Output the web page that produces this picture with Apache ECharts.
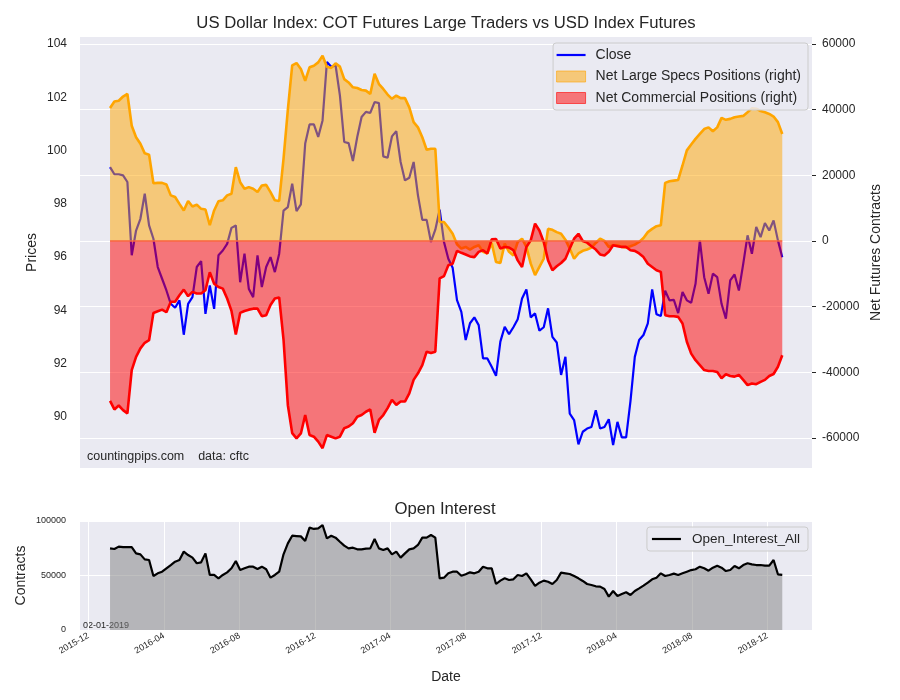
<!DOCTYPE html>
<html>
<head>
<meta charset="utf-8">
<script src="https://cdn.jsdelivr.net/npm/echarts@6.0.0/dist/echarts.min.js"></script>
<style>html,body{margin:0;padding:0;background:#fff}#c{width:900px;height:700px}</style>
</head>
<body>
<div id="c"></div>
<script>
// ---------- data (weekly COT reports, first report date below) ----------
const startDate = '2016-01-05';

const closePrices = [
  99.38,99.11,99.11,99.07,98.82,96.07,97.0,97.44,98.38,97.19,
  96.69,95.63,95.19,94.75,94.25,94.10,94.38,93.09,94.25,94.50,
  95.63,95.85,93.87,94.94,94.06,96.07,96.25,96.50,97.10,97.19,
  95.06,96.13,94.81,94.50,96.07,94.88,95.63,96.0,95.44,96.13,
  97.75,97.88,98.76,97.73,97.98,100.26,100.98,100.98,100.51,101.13,
  103.32,103.14,103.20,102.07,100.32,100.28,99.61,100.51,101.26,101.45,
  101.41,101.82,101.78,99.78,99.73,100.53,100.73,99.57,98.88,98.98,
  99.57,98.32,97.40,97.40,96.57,97.03,97.78,96.57,
  95.94,95.6,94.39,93.95,92.89,93.52,93.74,93.45,92.20,92.20,91.89,91.55,
  92.83,93.39,93.11,93.37,93.67,94.45,94.79,93.74,93.89,93.24,
  93.37,94.08,93.01,92.80,91.58,92.26,90.13,89.89,88.98,89.45,
  89.57,89.63,90.26,89.57,89.63,89.92,88.95,89.82,89.24,89.24,
  90.6,92.26,92.89,93.08,93.52,94.79,93.86,93.79,94.74,94.38,
  94.40,93.90,94.69,94.38,94.29,95.0,96.63,95.25,94.63,95.38,
  95.25,94.25,93.69,95.13,95.35,94.75,95.75,96.82,96.13,97.13,
  96.75,97.28,97.0,97.38,96.63,96.0
];

const netLargeSpecs = [
  40500,42500,42700,44000,44800,35100,31600,29600,26700,26300,
  17600,17700,17700,17200,13900,13400,11300,9300,12200,10500,
  11100,9800,9600,4800,9300,12100,12400,13900,14400,22500,
  17900,15900,16400,15900,14900,16900,17100,14900,12400,12200,
  25000,40000,53500,54200,52400,48800,52900,53400,54400,56400,
  53100,52700,54100,53100,49300,48300,46800,46600,46000,45800,
  44800,50900,47800,46300,44600,43300,44300,43500,43500,40700,
  36200,34600,31600,27800,28100,28100,5800,5800,
  4100,2200,-1000,-2300,-1800,-2600,-1800,-1300,-3300,-3800,-600,-6400,
  -6700,-800,-3300,-4400,-300,700,-1800,-6900,-10400,-7900,
  -5400,3700,3400,2700,2200,400,-2300,-5400,-3800,-3000,
  -2600,-2000,-600,700,0,-1800,-1300,-1300,-1800,-2000,
  -1600,-1100,-300,900,2700,3700,4500,4800,17700,18200,
  18400,18600,23000,27600,29400,31100,32600,34100,34600,33400,
  34600,37500,36900,37200,37700,37900,38100,39200,40400,40300,
  39600,39200,38700,37900,36200,32600
];

const netCommercial = [
  -48700,-51300,-50100,-51500,-52500,-39300,-35300,-32700,-31000,-30200,
  -21900,-21400,-20900,-21700,-18500,-18500,-16500,-14800,-16800,-15500,
  -16000,-16000,-15000,-9500,-13000,-14000,-14500,-17500,-21300,-28500,
  -21900,-21300,-20900,-20600,-20600,-22900,-22600,-19500,-17500,-17200,
  -30000,-50000,-58500,-60100,-58600,-53000,-59100,-59600,-61100,-63100,
  -59100,-59600,-60100,-59600,-57000,-56500,-55500,-53500,-53000,-52000,
  -51300,-58400,-54500,-53000,-50900,-48400,-49900,-48900,-48900,-46400,
  -42300,-40300,-37800,-33700,-34100,-33700,-11400,-10700,
  -7400,-6900,-3000,-3600,-4100,-4700,-4900,-3300,-2800,-3800,500,600,
  -2300,-1800,-2000,-2800,-5900,-7900,-1800,200,5300,3200,
  -300,-5900,-8900,-7700,-6700,-5400,-2300,700,2200,0,
  -500,-1600,-2600,-4100,-4400,-3300,-1300,-1600,-1800,-1800,
  -2800,-3000,-3800,-4900,-6900,-7900,-8900,-9400,-22600,-22900,
  -22900,-23100,-25100,-30700,-34300,-36300,-37800,-39300,-39600,-39600,
  -39900,-41800,-40600,-41100,-41300,-40800,-42300,-43900,-43400,-43600,
  -42900,-42300,-41100,-40500,-38300,-34800
];

const openInterest = [
  74900,74300,76500,76100,76100,76100,70300,69400,64800,64200,
  49500,52000,53500,56600,59600,62700,64200,71900,68800,66400,
  61200,62100,70300,50500,50500,47400,50500,52900,56600,63300,
  55000,56600,58100,58100,56000,58100,55700,48000,50500,53500,
  69400,79500,86500,86200,85900,81700,93900,92700,93300,96300,
  84100,86500,84700,81000,77400,74900,75500,74000,74000,74600,
  74900,83500,74900,73400,74900,69400,71900,66400,70300,74000,
  74900,78000,84700,84700,87200,84700,47400,48000,
  52000,53500,53500,49800,51100,52900,52000,53500,58100,56600,56600,42200,
  45300,47400,45900,46500,50500,49500,52000,46500,40400,43400,
  45300,44300,42200,45900,52600,52000,51400,49500,47400,45000,
  42200,41300,40100,39800,37600,30600,35800,31200,33000,34600,
  32100,35800,38200,40700,43400,46500,48000,52000,49500,50500,
  51700,50500,52000,53500,55000,55700,58100,56600,54400,57200,
  59000,57200,54100,55000,58700,56600,59600,61200,60200,59600,
  59600,59000,59000,64200,51100,50500
];

const dateTickLabels = ['2015-12','2016-04','2016-08','2016-12','2017-04','2017-08','2017-12','2018-04','2018-08','2018-12'];
const priceTicks = [90, 92, 94, 96, 98, 100, 102, 104];
const contractTicks = [-60000, -40000, -20000, 0, 20000, 40000, 60000];

// ---------- build ----------
const FONT = '"Liberation Sans", Arial, sans-serif';
const TXT = '#262626';
const sp = startDate.split('-').map(Number);
const dates = closePrices.map((_, i) => new Date(sp[0], sp[1] - 1, sp[2] + 7 * i).getTime());
const pair = arr => arr.map((v, i) => [dates[i], v]);
const tickTs = dateTickLabels.map(s => { const p = s.split('-').map(Number); return new Date(p[0], p[1] - 1, 1).getTime(); });
const labelMap = {};
tickTs.forEach((t, i) => { labelMap[t] = dateTickLabels[i]; });
const xMin = new Date(2015, 10, 17, 12).getTime();
const xMax = new Date(2019, 1, 11).getTime();
const plain = v => String(Math.round(v));
const lineIcon = 'path://M0,0 L29,0 L29,2.2 L0,2.2 Z';

const chart = echarts.init(document.getElementById('c'), null, {renderer: 'canvas'});
const option = {
  animation: false,
  backgroundColor: '#ffffff',
  textStyle: {fontFamily: FONT, color: TXT},
  title: [
    {text: 'US Dollar Index: COT Futures Large Traders vs USD Index Futures', left: 441, top: 10, textAlign: 'center',
     textStyle: {fontSize: 16.7, fontWeight: 'normal', color: TXT, fontFamily: FONT}},
    {text: 'Open Interest', left: 440, top: 496, textAlign: 'center',
     textStyle: {fontSize: 16.7, fontWeight: 'normal', color: TXT, fontFamily: FONT}}
  ],
  grid: [
    {left: 80, top: 37, width: 732, height: 431, show: true, backgroundColor: '#EAEAF2', borderWidth: 0, containLabel: false, outerBoundsMode: 'none'},
    {left: 80, top: 521, width: 732, height: 109, show: true, backgroundColor: '#EAEAF2', borderWidth: 0, containLabel: false, outerBoundsMode: 'none'}
  ],
  legend: [
    {
      data: [
        {name: 'Close', icon: lineIcon, itemStyle: {color: '#0000ff', borderWidth: 0}},
        {name: 'Net Large Specs Positions (right)', icon: 'rect', itemStyle: {color: 'rgba(255,165,0,0.5)', borderColor: 'rgba(255,165,0,0.6)', borderWidth: 1}},
        {name: 'Net Commercial Positions (right)', icon: 'rect', itemStyle: {color: 'rgba(255,0,0,0.5)', borderColor: 'rgba(255,0,0,0.6)', borderWidth: 1}}
      ],
      orient: 'vertical', right: 92, top: 43, itemWidth: 29, itemHeight: 11, itemGap: 7.5, symbolKeepAspect: true,
      textStyle: {fontSize: 14, color: TXT, fontFamily: FONT, padding: [0, 0, 0, 5]},
      backgroundColor: 'rgba(234,234,242,0.85)', borderColor: '#cccccc', borderWidth: 1, borderRadius: 3,
      padding: [5, 7, 5, 3], selectedMode: false
    },
    {
      data: [{name: 'Open_Interest_All', icon: lineIcon, itemStyle: {color: '#000000', borderWidth: 0}}],
      orient: 'vertical', right: 92, top: 527, itemWidth: 29, itemHeight: 11, symbolKeepAspect: true,
      textStyle: {fontSize: 13.5, color: TXT, fontFamily: FONT, padding: [0, 0, 0, 6]},
      backgroundColor: 'rgba(234,234,242,0.85)', borderColor: '#cccccc', borderWidth: 1, borderRadius: 3,
      padding: [5, 8, 5, 5], selectedMode: false
    }
  ],
  xAxis: [
    {type: 'value', gridIndex: 0, min: xMin, max: xMax, show: false, splitLine: {show: false}},
    {type: 'value', gridIndex: 1, min: xMin, max: xMax,
     axisLine: {show: false}, axisTick: {show: false, customValues: tickTs},
     axisLabel: {customValues: tickTs, rotate: 30, fontSize: 9, color: TXT, margin: 5, fontFamily: FONT,
                 formatter: v => labelMap[v] || ''},
     splitLine: {show: true, lineStyle: {color: '#ffffff', width: 1}},
     name: 'Date', nameLocation: 'middle', nameGap: 40, nameMoveOverlap: false,
     nameTextStyle: {fontSize: 14, color: TXT, fontFamily: FONT}}
  ],
  yAxis: [
    {type: 'value', gridIndex: 0, position: 'left', min: 88.09, max: 104.26,
     axisLine: {show: false}, axisTick: {show: false, customValues: priceTicks},
     axisLabel: {customValues: priceTicks, fontSize: 12, color: TXT, margin: 13, fontFamily: FONT, formatter: plain},
     splitLine: {show: false},
     name: 'Prices', nameLocation: 'middle', nameGap: 41, nameRotate: 90, nameMoveOverlap: false,
     nameTextStyle: {fontSize: 14, color: TXT, fontFamily: FONT}},
    {type: 'value', gridIndex: 0, position: 'right', min: -69130, max: 62130,
     axisLine: {show: false},
     axisTick: {show: true, inside: false, length: 4, lineStyle: {color: TXT, width: 1}, customValues: contractTicks},
     axisLabel: {customValues: contractTicks, fontSize: 12, color: TXT, margin: 10, fontFamily: FONT, formatter: plain},
     splitLine: {show: true, lineStyle: {color: '#ffffff', width: 1}},
     name: 'Net Futures Contracts', nameLocation: 'middle', nameGap: 57, nameRotate: 90, nameMoveOverlap: false,
     nameTextStyle: {fontSize: 14, color: TXT, fontFamily: FONT}},
    {type: 'value', gridIndex: 1, min: 0, max: 100000, interval: 50000,
     axisLine: {show: false}, axisTick: {show: false},
     axisLabel: {fontSize: 9, color: TXT, margin: 14, fontFamily: FONT, formatter: plain},
     splitLine: {show: true, lineStyle: {color: '#ffffff', width: 1}},
     name: 'Contracts', nameLocation: 'middle', nameGap: 52, nameRotate: 90, nameMoveOverlap: false,
     nameTextStyle: {fontSize: 14, color: TXT, fontFamily: FONT}}
  ],
  series: [
    {name: 'Close', type: 'line', xAxisIndex: 0, yAxisIndex: 0, data: pair(closePrices),
     symbol: 'none', lineStyle: {color: '#0000ff', width: 2.2}, itemStyle: {color: '#0000ff'}, z: 2},
    {name: 'Net Large Specs Positions (right)', type: 'line', xAxisIndex: 0, yAxisIndex: 1, data: pair(netLargeSpecs),
     symbol: 'none', lineStyle: {color: '#FFA500', width: 2.6}, itemStyle: {color: '#FFA500'},
     areaStyle: {color: 'rgba(255,165,0,0.5)', opacity: 1, origin: 'auto'}, z: 3},
    {name: 'Net Commercial Positions (right)', type: 'line', xAxisIndex: 0, yAxisIndex: 1, data: pair(netCommercial),
     symbol: 'none', lineStyle: {color: '#FF0000', width: 2.6}, itemStyle: {color: '#FF0000'},
     areaStyle: {color: 'rgba(255,0,0,0.5)', opacity: 1, origin: 'auto'}, z: 4,
     markLine: {silent: true, symbol: ['none', 'none'], label: {show: false},
                lineStyle: {color: '#f7643e', width: 1.6, type: 'solid'},
                data: [[{coord: [dates[0], 0]}, {coord: [dates[dates.length - 1], 0]}]]}},
    {name: 'Open_Interest_All', type: 'line', xAxisIndex: 1, yAxisIndex: 2, data: pair(openInterest),
     symbol: 'none', lineStyle: {color: '#000000', width: 2.2}, itemStyle: {color: '#000000'},
     areaStyle: {color: 'rgba(128,128,128,0.5)', opacity: 1, origin: 'auto'}, z: 3}
  ],
  graphic: [
    {type: 'text', left: 87, top: 450, style: {text: 'countingpips.com    data: cftc', fontSize: 12.5, fill: TXT, fontFamily: FONT}},
    {type: 'text', left: 83, top: 621, style: {text: '02-01-2019', fontSize: 9, fill: TXT, fontFamily: FONT}}
  ]
};
chart.setOption(option);
</script>
</body>
</html>
